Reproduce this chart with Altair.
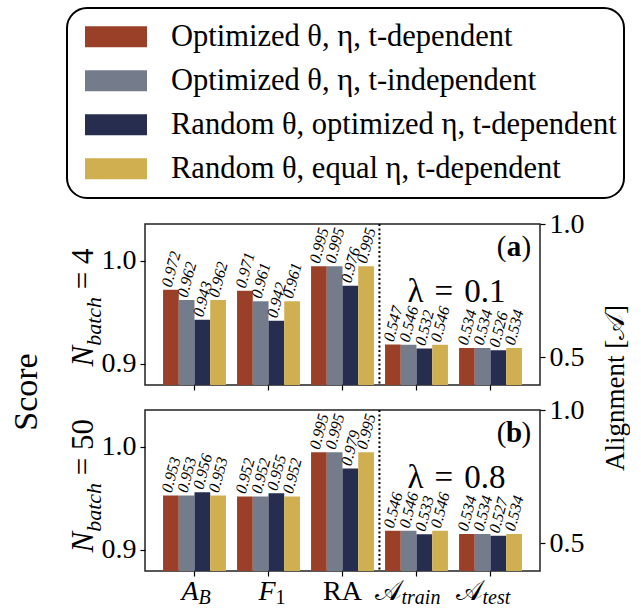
import altair as alt
import pandas as pd

FONT = "Liberation Serif"

categories = ["A_B", "F_1", "RA", "A_train", "A_test"]
score_cats = categories[:3]
align_cats = categories[3:]
series = [
    "Optimized θ, η, t-dependent",
    "Optimized θ, η, t-independent",
    "Random θ, optimized η, t-dependent",
    "Random θ, equal η, t-dependent",
]
colors = ["#9A4029", "#747C8C", "#262D4F", "#D0AF51"]

# panel (a): N_batch = 4, lambda = 0.1
a_AB = [0.972, 0.962, 0.943, 0.962]
a_F1 = [0.971, 0.961, 0.942, 0.961]
a_RA = [0.995, 0.995, 0.976, 0.995]
a_Atrain = [0.547, 0.546, 0.532, 0.546]
a_Atest = [0.534, 0.534, 0.526, 0.534]
# panel (b): N_batch = 50, lambda = 0.8
b_AB = [0.953, 0.953, 0.956, 0.953]
b_F1 = [0.952, 0.952, 0.955, 0.952]
b_RA = [0.995, 0.995, 0.979, 0.995]
b_Atrain = [0.546, 0.546, 0.533, 0.546]
b_Atest = [0.534, 0.534, 0.527, 0.534]

score_ticks = [0.9, 1.0]
align_ticks = [0.5, 1.0]
score_domain = [0.8796, 1.0359]
align_domain = [0.395, 1.0]

x_main = {"A_B": "A", "F_1": "F", "RA": "RA", "A_train": "𝒜", "A_test": "𝒜"}
x_sub = {"A_B": "B", "F_1": "1", "RA": "", "A_train": "train", "A_test": "test"}
x_main_italic = {"A_B": True, "F_1": True, "RA": False, "A_train": False, "A_test": False}
x_sub_italic = {"A_B": True, "F_1": False, "RA": False, "A_train": True, "A_test": True}
# style: horizontal split point of composed tick labels relative to tick
x_split = {"A_B": 4, "F_1": 7, "RA": 0, "A_train": -15, "A_test": -8}

W, H = 395, 161
SP = "\u2004"


def make_df(lists):
    rows = []
    for cat, vals in zip(categories, lists):
        for s, v in zip(series, vals):
            rows.append({"cat": cat, "series": s, "value": v, "label": f"{v:.3f}"})
    return pd.DataFrame(rows)


def xenc(bp=None):
    kw = {}
    if bp is not None:
        kw["bandPosition"] = bp
    return alt.X(
        "cat:N", sort=categories,
        scale=alt.Scale(domain=categories, paddingInner=0.15, paddingOuter=0.244),
        axis=alt.Axis(labels=False, title=None, domain=False, ticks=True, tickSize=5,
                      tickWidth=1.2, tickColor="black", grid=False),
        **kw,
    )


xo = alt.XOffset("series:N", sort=series,
                 scale=alt.Scale(domain=series, paddingInner=0, paddingOuter=0))
color = alt.Color(
    "series:N", sort=series,
    scale=alt.Scale(domain=series, range=colors),
    legend=alt.Legend(
        title=None, orient="none", legendX=-78, legendY=-216, direction="vertical",
        symbolType="M-1,-0.34H1V0.34H-1Z", symbolSize=3844, symbolStrokeWidth=0,
        symbolOpacity=1, labelFont=FONT, labelFontSize=30.5, labelColor="black",
        labelLimit=700, labelOffset=24, symbolOffset=11, clipHeight=43.5, rowPadding=0,
    ),
)


def txt(s, x, y, size, baseline="alphabetic", **kw):
    return alt.Chart(pd.DataFrame({"t": [s]})).mark_text(
        font=FONT, fontSize=size, color="black", baseline=baseline, **kw
    ).encode(x=alt.value(x), y=alt.value(y), text="t:N")


def side(df, cats, domain, ticks, orient):
    y = alt.Y("value:Q", scale=alt.Scale(domain=domain, zero=False, nice=False),
              axis=alt.Axis(orient=orient, values=ticks, format=".1f", title=None,
                            domain=False, grid=False, tickSize=5, tickWidth=1.2,
                            tickColor="black", labelFont=FONT, labelFontSize=28,
                            labelColor="black", labelPadding=4))
    base = alt.Chart(df).transform_filter(alt.FieldOneOfPredicate(field="cat", oneOf=cats))
    bars = base.mark_bar(clip=True).encode(x=xenc(), xOffset=xo, y=y, color=color)
    text = base.mark_text(angle=285, align="left", baseline="middle", dx=2, dy=-5,
                          font=FONT, fontSize=16, fontStyle="italic", color="black").encode(
        x=xenc(), xOffset=xo, y=y, text="label:N")
    return alt.layer(bars, text)


def panel(df, letter, lam, nb_pieces, bottom, extra):
    left = side(df, score_cats, score_domain, score_ticks, "left")
    right = side(df, align_cats, align_domain, align_ticks, "right")
    rule = alt.Chart(pd.DataFrame({"cat": [categories[2]]})).mark_rule(
        strokeDash=[2, 2.5], strokeWidth=2, color="black", xOffset=5.5).encode(x=xenc(1))
    layers = [left, right, rule]
    # panel letter
    layers.append(txt(letter, 369, 32, 29, fontWeight="bold", align="center"))
    layers.append(txt("(", 369, 32, 29, align="right", dx=-7.5))
    layers.append(txt(")", 369, 32, 29, align="left", dx=7.5))
    layers.append(txt(lam, 311.5, 78, 33, align="center"))
    # row label N_batch = ...
    for s, dx, dy, size, italic in nb_pieces:
        kw = {"fontStyle": "italic"} if italic else {}
        layers.append(txt(s, -52, H / 2 + 62, size, angle=270, align="left", dx=dx, dy=dy, **kw))
    if bottom:
        for c in categories:
            d = pd.DataFrame({"cat": [c], "m": [x_main[c]], "s": [x_sub[c]]})
            mkw = {"fontStyle": "italic"} if x_main_italic[c] else {}
            if x_sub[c]:
                layers.append(alt.Chart(d).mark_text(font=FONT, fontSize=28, color="black", align="right",
                                                     baseline="alphabetic", dx=x_split[c], **mkw).encode(
                    x=xenc(), y=alt.value(H + 29), text="m:N"))
                skw = {"fontStyle": "italic"} if x_sub_italic[c] else {}
                layers.append(alt.Chart(d).mark_text(font=FONT, fontSize=20, color="black", align="left",
                                                     baseline="alphabetic", dx=x_split[c], dy=3.5, **skw).encode(
                    x=xenc(), y=alt.value(H + 29), text="s:N"))
            else:
                layers.append(alt.Chart(d).mark_text(font=FONT, fontSize=28, color="black", align="center",
                                                     baseline="alphabetic", **mkw).encode(
                    x=xenc(), y=alt.value(H + 29), text="m:N"))
    layers.extend(extra)
    return alt.layer(*layers).resolve_scale(y="independent").properties(width=W, height=H)


nb_a = [("N", 0, 0, 31, True), ("batch", 20.7, 8, 22, True), ("= 4", 77.3, 0, 31, False)]
nb_b = [("N", 0, 0, 31, True), ("batch", 20.7, 8, 22, True), ("= 50", 77.3, 0, 31, False)]

extra_a = [
    txt("Score", -118, 168, 34, baseline="middle", angle=270, align="center"),
    txt("Alignment [𝒜]", 471, 164, 27, baseline="middle", angle=270, align="center"),
]

pa = panel(make_df([a_AB, a_F1, a_RA, a_Atrain, a_Atest]), "a", f"λ{SP}={SP}0.1", nb_a, False, extra_a)
pb = panel(make_df([b_AB, b_F1, b_RA, b_Atrain, b_Atest]), "b", f"λ{SP}={SP}0.8", nb_b, True, [])

chart = alt.vconcat(pa, pb, spacing=25, bounds="flush").resolve_scale(color="shared").configure_view(
    stroke="#222", strokeWidth=1.5
).configure_legend(
    strokeColor="black", strokeWidth=2, cornerRadius=20, padding=7, fillColor="white"
).properties(padding={"left": 9, "top": 7, "right": 0, "bottom": 0})

chart.save("out.html", embed_options={"renderer": "svg", "actions": False})
